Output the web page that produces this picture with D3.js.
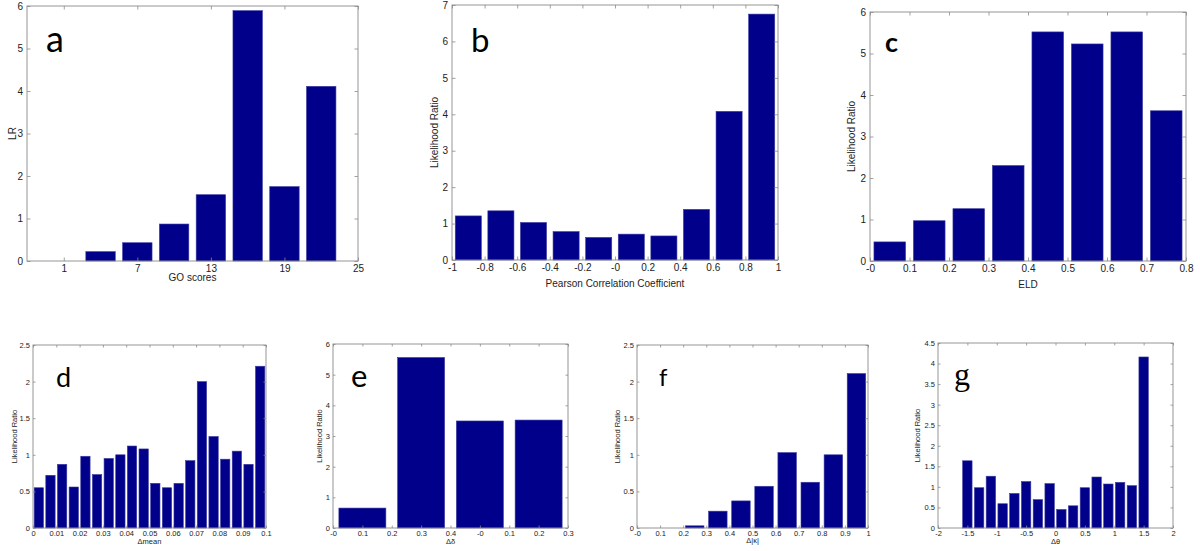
<!DOCTYPE html>
<html><head><meta charset="utf-8">
<script src="https://cdn.jsdelivr.net/npm/d3@7"></script>
<style>body{margin:0;background:#fff;} svg{display:block;}</style>
</head><body>
<svg id="chart" width="1200" height="551"></svg>
<script>
// ---- Data ----
// a: GO scores
const aCenters = [1, 4, 7, 10, 13, 16, 19, 22];
const aValues  = [0, 0.22, 0.43, 0.87, 1.56, 5.89, 1.75, 4.11];
const aXTicks  = [1, 7, 13, 19, 25];
const aXLabels = ["1", "7", "13", "19", "25"];
const aYTicks  = [0, 1, 2, 3, 4, 5, 6];
// b: Pearson correlation coefficient
const bCenters = [-0.9, -0.7, -0.5, -0.3, -0.1, 0.1, 0.3, 0.5, 0.7, 0.9];
const bValues  = [1.21, 1.35, 1.03, 0.78, 0.62, 0.71, 0.66, 1.39, 4.08, 6.75];
const bXTicks  = [-1, -0.8, -0.6, -0.4, -0.2, 0, 0.2, 0.4, 0.6, 0.8, 1];
const bXLabels = ["-1", "-0.8", "-0.6", "-0.4", "-0.2", "-0", "0.2", "0.4", "0.6", "0.8", "1"];
const bYTicks  = [0, 1, 2, 3, 4, 5, 6, 7];
// c: ELD
const cCenters = [0.05, 0.15, 0.25, 0.35, 0.45, 0.55, 0.65, 0.75];
const cValues  = [0.46, 0.97, 1.26, 2.3, 5.52, 5.23, 5.52, 3.62];
const cXTicks  = [0, 0.1, 0.2, 0.3, 0.4, 0.5, 0.6, 0.7, 0.8];
const cXLabels = ["-0", "0.1", "0.2", "0.3", "0.4", "0.5", "0.6", "0.7", "0.8"];
const cYTicks  = [0, 1, 2, 3, 4, 5, 6];
// d: Δmean
const dCenters = [0.0025, 0.0075, 0.0125, 0.0175, 0.0225, 0.0275, 0.0325, 0.0375, 0.0425, 0.0475,
                  0.0525, 0.0575, 0.0625, 0.0675, 0.0725, 0.0775, 0.0825, 0.0875, 0.0925, 0.0975];
const dValues  = [0.55, 0.72, 0.87, 0.56, 0.98, 0.73, 0.95, 1.0, 1.12, 1.08,
                  0.61, 0.55, 0.61, 0.92, 2.0, 1.25, 0.94, 1.05, 0.87, 2.21];
const dXTicks  = [0, 0.01, 0.02, 0.03, 0.04, 0.05, 0.06, 0.07, 0.08, 0.09, 0.1];
const dXLabels = ["0", "0.01", "0.02", "0.03", "0.04", "0.05", "0.06", "0.07", "0.08", "0.09", "0.1"];
const dYTicks  = [0, 0.5, 1, 1.5, 2, 2.5];
// e: Δδ (tick positions 0..8 carry the printed labels)
const eCenters = [1, 3, 5, 7];
const eValues  = [0.65, 5.56, 3.49, 3.52];
const eXTicks  = [0, 1, 2, 3, 4, 5, 6, 7, 8];
const eXLabels = ["-0", "0.1", "0.2", "0.3", "0.4", "-0", "0.1", "0.2", "0.3"];
const eYTicks  = [0, 1, 2, 3, 4, 5, 6];
// f: Δ|κ|
const fCenters = [0.05, 0.15, 0.25, 0.35, 0.45, 0.55, 0.65, 0.75, 0.85, 0.95];
const fValues  = [0, 0, 0.03, 0.23, 0.37, 0.57, 1.03, 0.625, 1.0, 2.11];
const fXTicks  = [0, 0.1, 0.2, 0.3, 0.4, 0.5, 0.6, 0.7, 0.8, 0.9, 1];
const fXLabels = ["-0", "0.1", "0.2", "0.3", "0.4", "0.5", "0.6", "0.7", "0.8", "0.9", "1"];
const fYTicks  = [0, 0.5, 1, 1.5, 2, 2.5];
// g: Δθ
const gCenters = [-1.5, -1.3, -1.1, -0.9, -0.7, -0.5, -0.3, -0.1, 0.1, 0.3, 0.5, 0.7, 0.9, 1.1, 1.3, 1.5];
const gValues  = [1.635, 0.98, 1.26, 0.59, 0.84, 1.13, 0.69, 1.08, 0.45, 0.54, 0.98, 1.24, 1.07, 1.11, 1.03, 4.16];
const gXTicks  = [-2, -1.5, -1, -0.5, 0, 0.5, 1, 1.5, 2];
const gXLabels = ["-2", "-1.5", "-1", "-0.5", "0", "0.5", "1", "1.5", "2"];
const gYTicks  = [0, 0.5, 1, 1.5, 2, 2.5, 3, 3.5, 4, 4.5];

const BAR = "#00008a";
const AXIS = "#8a8a8a";
const svg = d3.select("#chart");

function panel(o) {
  const x = d3.scaleLinear().domain(o.xDomain).range([o.l, o.r]);
  const y = d3.scaleLinear().domain(o.yDomain).range([o.b, o.t]);
  const g = svg.append("g");
  const fs = o.fs, ts = o.tick;

  g.selectAll("rect.bar").data(o.centers.map((c, i) => ({c, v: o.values[i]})))
    .join("rect").attr("class", "bar")
    .attr("x", d => x(d.c - o.bw / 2))
    .attr("width", d => x(d.c + o.bw / 2) - x(d.c - o.bw / 2))
    .attr("y", d => y(d.v))
    .attr("height", d => y(0) - y(d.v))
    .attr("fill", BAR).attr("stroke", "#3a3aa0").attr("stroke-width", 0.6);

  const style = sel => {
    sel.select(".domain").remove();
    sel.selectAll(".tick line").attr("stroke", AXIS).attr("stroke-width", 0.8);
    sel.selectAll(".tick text").attr("fill", "#222").style("font-family", "Liberation Sans, Arial, sans-serif").style("font-size", fs + "px");
  };
  const lbl = (ticks, labels) => (d) => labels[ticks.indexOf(d)];

  g.append("g").attr("transform", `translate(0,${o.b})`)
    .call(d3.axisBottom(x).tickValues(o.xTicks).tickFormat(lbl(o.xTicks, o.xLabels)).tickSize(-ts).tickPadding(o.xpad))
    .call(style);
  g.append("g").attr("transform", `translate(0,${o.t})`)
    .call(d3.axisTop(x).tickValues(o.xTicks).tickFormat("").tickSize(-ts)).call(style);
  g.append("g").attr("transform", `translate(${o.l},0)`)
    .call(d3.axisLeft(y).tickValues(o.yTicks).tickFormat(d3.format("~g")).tickSize(-ts).tickPadding(o.ypad))
    .call(style);
  g.append("g").attr("transform", `translate(${o.r},0)`)
    .call(d3.axisRight(y).tickValues(o.yTicks).tickFormat("").tickSize(-ts)).call(style);

  g.append("rect").attr("x", o.l).attr("y", o.t).attr("width", o.r - o.l).attr("height", o.b - o.t)
    .attr("fill", "none").attr("stroke", AXIS).attr("stroke-width", 0.9);

  g.append("text").attr("x", (o.l + o.r) / 2).attr("y", o.xlY).attr("text-anchor", "middle")
    .style("font-family", "Liberation Sans, 'DejaVu Sans', Arial, sans-serif").style("font-size", o.lfs + "px").attr("fill", "#222")
    .text(o.xlabel);
  g.append("text").attr("transform", `translate(${o.ylX},${(o.t + o.b) / 2}) rotate(-90)`).attr("text-anchor", "middle")
    .attr("dy", "0.35em")
    .style("font-family", "Liberation Sans, Arial, sans-serif").style("font-size", o.lfs + "px").attr("fill", "#222")
    .text(o.ylabel);

  g.append("text").attr("x", o.letX).attr("y", o.letY)
    .style("font-family", o.letFont).style("font-size", o.letSize + "px").style("font-weight", o.letWeight || "normal")
    .attr("fill", "#000").text(o.letter);
}

const TOP = {fs: 10, lfs: 10, tick: 3.5, xpad: 4, ypad: 4};
const BOT = {fs: 7.5, lfs: 7.5, tick: 2.5, xpad: 3, ypad: 3};
const SANS = "Lato, 'Open Sans', sans-serif";

panel(Object.assign({}, TOP, {l: 27, r: 358, t: 6, b: 261, xDomain: [-2, 25], yDomain: [0, 6],
  centers: aCenters, values: aValues, bw: 2.4, xTicks: aXTicks, xLabels: aXLabels, yTicks: aYTicks,
  xlabel: "GO scores", ylabel: "LR", xlY: 281, ylX: 12, letter: "a", letX: 46, letY: 52, letSize: 36, letFont: SANS}));
panel(Object.assign({}, TOP, {l: 452, r: 778, t: 5, b: 260, xDomain: [-1, 1], yDomain: [0, 7],
  centers: bCenters, values: bValues, bw: 0.16, xTicks: bXTicks, xLabels: bXLabels, yTicks: bYTicks,
  xlabel: "Pearson Correlation Coefficient", ylabel: "Likelihood Ratio", xlY: 287, ylX: 434,
  letter: "b", letX: 471, letY: 52, letSize: 33, letFont: SANS}));
panel(Object.assign({}, TOP, {l: 870, r: 1186, t: 12, b: 261, xDomain: [0, 0.8], yDomain: [0, 6],
  centers: cCenters, values: cValues, bw: 0.08, xTicks: cXTicks, xLabels: cXLabels, yTicks: cYTicks,
  xlabel: "ELD", ylabel: "Likelihood Ratio", xlY: 288, ylX: 851,
  letter: "c", letX: 885, letY: 52, letSize: 27, letWeight: "bold", letFont: SANS}));

panel(Object.assign({}, BOT, {l: 33, r: 266, t: 345, b: 528, xDomain: [0, 0.1], yDomain: [0, 2.5],
  centers: dCenters, values: dValues, bw: 0.004, xTicks: dXTicks, xLabels: dXLabels, yTicks: dYTicks,
  xlabel: "\u0394mean", ylabel: "Likelihood Ratio", xlY: 544, ylX: 14,
  letter: "d", letX: 56, letY: 387, letSize: 27, letFont: SANS}));
panel(Object.assign({}, BOT, {l: 333, r: 568, t: 344, b: 528, xDomain: [0, 8], yDomain: [0, 6],
  centers: eCenters, values: eValues, bw: 1.6, xTicks: eXTicks, xLabels: eXLabels, yTicks: eYTicks,
  xlabel: "\u0394\u03b4", ylabel: "Likelihood Ratio", xlY: 544, ylX: 319,
  letter: "e", letX: 351, letY: 387, letSize: 31, letFont: SANS}));
panel(Object.assign({}, BOT, {l: 637, r: 868, t: 345, b: 528, xDomain: [0, 1], yDomain: [0, 2.5],
  centers: fCenters, values: fValues, bw: 0.08, xTicks: fXTicks, xLabels: fXLabels, yTicks: fYTicks,
  xlabel: "\u0394|\u03ba|", ylabel: "Likelihood Ratio", xlY: 543, ylX: 617,
  letter: "f", letX: 659, letY: 386, letSize: 24, letFont: SANS}));
panel(Object.assign({}, BOT, {l: 938, r: 1173, t: 343, b: 528, xDomain: [-2, 2], yDomain: [0, 4.5],
  centers: gCenters, values: gValues, bw: 0.16, xTicks: gXTicks, xLabels: gXLabels, yTicks: gYTicks,
  xlabel: "\u0394\u03b8", ylabel: "Likelihood Ratio", xlY: 544, ylX: 917,
  letter: "g", letX: 954, letY: 385, letSize: 32, letFont: "'Liberation Serif', 'DejaVu Serif', serif"}));
</script>
</body></html>
